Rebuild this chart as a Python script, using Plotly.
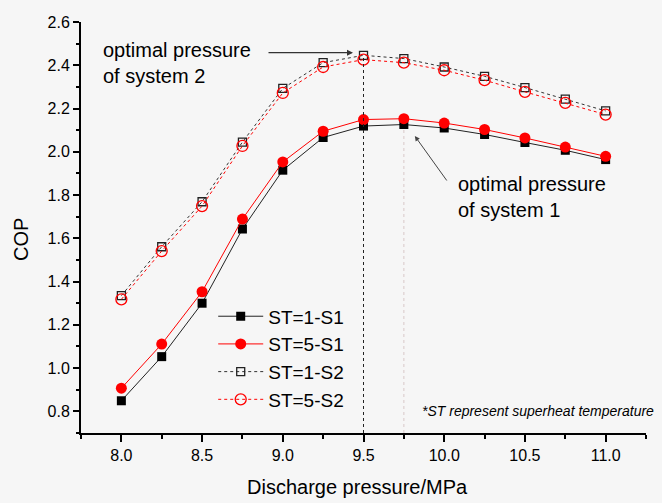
import plotly.graph_objects as go

# ---- data ----
pressure = [8.0, 8.25, 8.5, 8.75, 9.0, 9.25, 9.5, 9.75, 10.0, 10.25, 10.5, 10.75, 11.0]
st1_s1 = [0.849, 1.053, 1.300, 1.643, 1.915, 2.066, 2.119, 2.126, 2.110, 2.080, 2.043, 2.007, 1.964]
st5_s1 = [0.907, 1.111, 1.353, 1.689, 1.953, 2.095, 2.149, 2.153, 2.133, 2.103, 2.064, 2.022, 1.979]
st1_s2 = [1.335, 1.561, 1.769, 2.045, 2.293, 2.412, 2.446, 2.431, 2.392, 2.349, 2.297, 2.243, 2.189]
st5_s2 = [1.318, 1.541, 1.749, 2.027, 2.272, 2.392, 2.426, 2.412, 2.377, 2.331, 2.277, 2.226, 2.172]
series_names = ["ST=1-S1", "ST=5-S1", "ST=1-S2", "ST=5-S2"]

x_ticks = [8.0, 8.5, 9.0, 9.5, 10.0, 10.5, 11.0]
x_ticklabels = ["8.0", "8.5", "9.0", "9.5", "10.0", "10.5", "11.0"]
x_minor = [7.75, 8.25, 8.75, 9.25, 9.75, 10.25, 10.75, 11.25]
y_ticks = [0.8, 1.0, 1.2, 1.4, 1.6, 1.8, 2.0, 2.2, 2.4, 2.6]
y_ticklabels = ["0.8", "1.0", "1.2", "1.4", "1.6", "1.8", "2.0", "2.2", "2.4", "2.6"]
y_minor = [0.7, 0.9, 1.1, 1.3, 1.5, 1.7, 1.9, 2.1, 2.3, 2.5]

FONT = "Liberation Sans, Arial, sans-serif"
RED = "#ff0000"
BG = "#f6f6f6"

fig = go.Figure()
fig.add_trace(go.Scatter(x=pressure, y=st1_s1, name=series_names[0], mode="lines+markers",
                         line=dict(color="#222222", width=1),
                         marker=dict(symbol="square", size=9, color="black")))
fig.add_trace(go.Scatter(x=pressure, y=st5_s1, name=series_names[1], mode="lines+markers",
                         line=dict(color=RED, width=1),
                         marker=dict(symbol="circle", size=11, color=RED)))
fig.add_trace(go.Scatter(x=pressure, y=st1_s2, name=series_names[2], mode="lines+markers",
                         line=dict(color="#333333", width=1, dash="3px,3px"),
                         marker=dict(symbol="square-open", size=8, color="#222222", line=dict(width=1.3))))
fig.add_trace(go.Scatter(x=pressure, y=st5_s2, name=series_names[3], mode="lines+markers",
                         line=dict(color=RED, width=1, dash="dot"),
                         marker=dict(symbol="circle-open", size=11, color=RED, line=dict(width=1.3))))

# optimal-pressure reference lines (from peaks of data)
i2 = st1_s2.index(max(st1_s2))
i1 = st1_s1.index(max(st1_s1))
fig.add_shape(type="line", xref="x", yref="y", x0=pressure[i2], x1=pressure[i2], y0=0.7, y1=st1_s2[i2],
              line=dict(color="#222222", width=1, dash="3px,3px"))
fig.add_shape(type="line", xref="x", yref="y", x0=pressure[i1], x1=pressure[i1], y0=0.7, y1=st1_s1[i1] - 0.015,
              line=dict(color="#d8c8c8", width=1, dash="3px,3px"))

annotations = [
    dict(xref="paper", yref="paper", x=0.036, y=0.901, xanchor="left", yanchor="middle",
         text="optimal pressure<br>of system 2", showarrow=False, align="left",
         font=dict(family=FONT, size=20, color="black")),
    dict(xref="paper", yref="paper", x=0.663, y=0.573, xanchor="left", yanchor="middle",
         text="optimal pressure<br>of system 1", showarrow=False, align="left",
         font=dict(family=FONT, size=20, color="black")),
    dict(xref="x", yref="y", x=9.435, y=2.458, ax=-86, ay=0, text="", showarrow=True,
         arrowhead=2, arrowsize=1, arrowwidth=1.2, arrowcolor="#333333", standoff=0),
    dict(xref="x", yref="y", x=9.818, y=2.073, ax=33, ay=46, text="", showarrow=True,
         arrowhead=2, arrowsize=1, arrowwidth=1, arrowcolor="#444444", standoff=0),
    dict(xref="paper", yref="paper", x=1.018, y=0.054, xanchor="right", yanchor="middle",
         text="<i>*ST represent superheat temperature</i>", showarrow=False,
         font=dict(family=FONT, size=14, color="black")),
    # axis titles
    dict(xref="paper", yref="paper", x=0.489, y=-0.131, xanchor="center", yanchor="middle",
         text="Discharge pressure/MPa", showarrow=False,
         font=dict(family=FONT, size=20, color="black")),
    dict(xref="paper", yref="paper", x=-0.106, y=0.47, xanchor="center", yanchor="middle",
         text="COP", textangle=-90, showarrow=False,
         font=dict(family=FONT, size=20, color="black")),
]

fig.update_layout(
    width=662, height=503,
    margin=dict(l=81, r=16, t=22, b=70),
    paper_bgcolor=BG, plot_bgcolor=BG,
    font=dict(family=FONT, color="black"),
    showlegend=True,
    legend=dict(x=0.234, y=0.330, xanchor="left", yanchor="top",
                bgcolor="rgba(0,0,0,0)", font=dict(family=FONT, size=19),
                itemwidth=45, tracegroupgap=0),
    annotations=annotations,
)
fig.update_xaxes(
    range=[7.75, 11.25], showgrid=False, zeroline=False,
    showline=True, linecolor="black", linewidth=2,
    ticks="outside", ticklen=7, tickwidth=1.5, tickcolor="black",
    tickmode="array", tickvals=x_ticks, ticktext=x_ticklabels,
    tickfont=dict(family=FONT, size=16),
    minor=dict(ticks="outside", ticklen=4, tickwidth=1.5, tickcolor="black",
               tickmode="array", tickvals=x_minor, showgrid=False),
)
fig.update_yaxes(
    range=[0.7, 2.6], showgrid=False, zeroline=False,
    showline=True, linecolor="black", linewidth=2,
    ticks="outside", ticklen=6, tickwidth=1.5, tickcolor="black",
    tickmode="array", tickvals=y_ticks, ticktext=y_ticklabels,
    tickfont=dict(family=FONT, size=16),
    minor=dict(ticks="outside", ticklen=3, tickwidth=1.5, tickcolor="black",
               tickmode="array", tickvals=y_minor, showgrid=False),
)

fig.write_html("out.html")
